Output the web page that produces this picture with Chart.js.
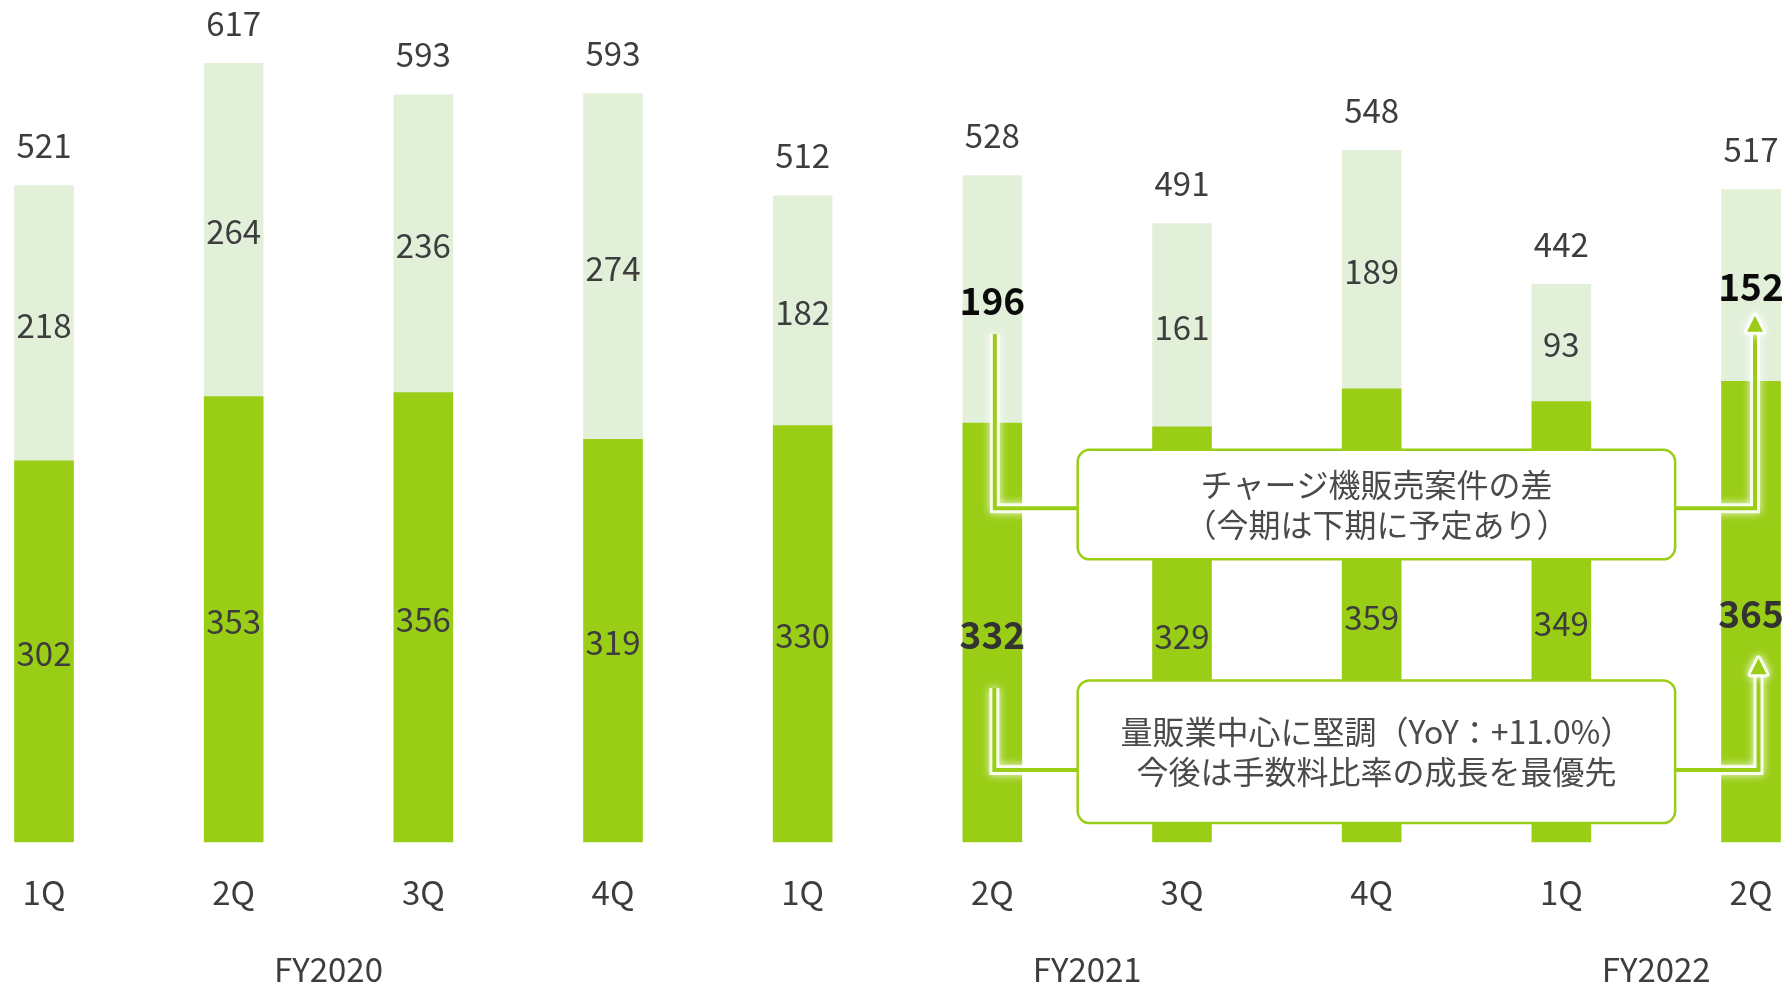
<!DOCTYPE html>
<html>
<head>
<meta charset="utf-8">
<script src="https://cdn.jsdelivr.net/npm/chart.js@4"></script>
<style>
  html, body { margin: 0; padding: 0; background: #ffffff; }
  #wrap { width: 1786px; height: 984px; }
</style>
</head>
<body>
<div id="wrap"><canvas id="chart" width="1786" height="984"></canvas></div>
<script>
// Quarterly breakdown: base business (bottom) and charger sales (top)
const quarters = ['1Q', '2Q', '3Q', '4Q', '1Q', '2Q', '3Q', '4Q', '1Q', '2Q'];
const fiscalYears = ['FY2020', 'FY2021', 'FY2022'];
const fiscalYearFirst = [0, 4, 8];
const fiscalYearLast = [3, 7, 9];
const baseValues = [302, 353, 356, 319, 330, 332, 329, 359, 349, 365];
const chargerValues = [218, 264, 236, 274, 182, 196, 161, 189, 93, 152];
const totals = [521, 617, 593, 593, 512, 528, 491, 548, 442, 517];
const highlighted = [5, 9];

const noteTexts = [
  ['チャージ機販売案件の差', '（今期は下期に予定あり）'],
  ['量販業中心に堅調（YoY：+11.0%）', '今後は手数料比率の成長を最優先']
];

const FONT = "'Noto Sans CJK JP', 'Noto Sans', sans-serif";
const GREEN = '#9ACE16';
const LIGHT = '#E2F0DA';
const TEXT = '#3d3d3d';

// Callout boxes and connectors, placed in data space (y values) and by category index
const callouts = [
  { lines: noteTexts[0], top: 310.7, bottom: 224, linkY: 264.5, startY: 402.5, tipY: 417, from: 5, to: 9, startDx: 2.5, tipDx: 4 },
  { lines: noteTexts[1], top: 128, bottom: 15, linkY: 57, startY: 122, tipY: 145.5, from: 5, to: 9, startDx: 2, tipDx: 7.5 }
];

const valueLabels = {
  id: 'valueLabels',
  afterDatasetsDraw(chart) {
    const ctx = chart.ctx;
    const baseEls = chart.getDatasetMeta(0).data;
    const chargeEls = chart.getDatasetMeta(1).data;
    ctx.save();
    ctx.textAlign = 'center';
    ctx.textBaseline = 'middle';
    baseEls.forEach((el, i) => {
      const hi = highlighted.includes(i);
      ctx.font = hi ? `bold 37px ${FONT}` : `33px ${FONT}`;
      ctx.fillStyle = hi ? '#333333' : TEXT;
      ctx.fillText(String(baseValues[i]), el.x, (el.y + el.base) / 2 + 2);
      const c = chargeEls[i];
      ctx.fillStyle = hi ? '#0a0a0a' : TEXT;
      ctx.fillText(String(chargerValues[i]), c.x, (c.y + c.base) / 2 + 2);
      ctx.font = `33px ${FONT}`;
      ctx.fillStyle = TEXT;
      ctx.fillText(String(totals[i]), c.x, c.y - 40);
    });
    ctx.restore();
  }
};

function glowStroke(ctx, path, width) {
  ctx.save();
  ctx.lineJoin = 'miter';
  ctx.strokeStyle = 'rgba(255,255,255,0.85)';
  ctx.shadowColor = 'rgba(255,255,255,1)';
  ctx.shadowBlur = 9;
  ctx.lineWidth = width + 6;
  path();
  ctx.stroke();
  ctx.restore();
  ctx.save();
  ctx.lineJoin = 'miter';
  ctx.strokeStyle = GREEN;
  ctx.lineWidth = width;
  path();
  ctx.stroke();
  ctx.restore();
}

function glowFill(ctx, path) {
  ctx.save();
  ctx.fillStyle = 'rgba(255,255,255,0.85)';
  ctx.strokeStyle = 'rgba(255,255,255,0.85)';
  ctx.lineWidth = 6;
  ctx.lineJoin = 'round';
  ctx.shadowColor = '#ffffff';
  ctx.shadowBlur = 9;
  path();
  ctx.fill();
  ctx.stroke();
  ctx.restore();
  ctx.save();
  ctx.fillStyle = GREEN;
  path();
  ctx.fill();
  ctx.restore();
}

const calloutPlugin = {
  id: 'callouts',
  afterDraw(chart) {
    const ctx = chart.ctx;
    const xs = chart.scales.x;
    const ys = chart.scales.y;
    const step = xs.getPixelForValue(1) - xs.getPixelForValue(0);
    callouts.forEach(c => {
      const left = xs.getPixelForValue(c.from) + 0.45 * step;
      const right = xs.getPixelForValue(c.to) - 0.40 * step;
      const top = ys.getPixelForValue(c.top);
      const bottom = ys.getPixelForValue(c.bottom);
      const linkY = ys.getPixelForValue(c.linkY);
      const sx = xs.getPixelForValue(c.from) + c.startDx;
      const sy = ys.getPixelForValue(c.startY);
      const tx = xs.getPixelForValue(c.to) + c.tipDx;
      const ty = ys.getPixelForValue(c.tipY);
      const headLen = 16, headHalf = 8;

      // left connector: down from the label, then across into the box
      glowStroke(ctx, () => {
        ctx.beginPath();
        ctx.moveTo(sx, sy);
        ctx.lineTo(sx, linkY);
        ctx.lineTo(left, linkY);
      }, 4);
      // right connector: out of the box, then up to the arrow
      glowStroke(ctx, () => {
        ctx.beginPath();
        ctx.moveTo(right, linkY);
        ctx.lineTo(tx, linkY);
        ctx.lineTo(tx, ty + headLen - 1);
      }, 4);
      glowFill(ctx, () => {
        ctx.beginPath();
        ctx.moveTo(tx, ty);
        ctx.lineTo(tx + headHalf, ty + headLen);
        ctx.lineTo(tx - headHalf, ty + headLen);
        ctx.closePath();
      });

      // box
      ctx.save();
      ctx.beginPath();
      ctx.roundRect(left, top, right - left, bottom - top, 12);
      ctx.fillStyle = '#ffffff';
      ctx.fill();
      ctx.lineWidth = 2.5;
      ctx.strokeStyle = GREEN;
      ctx.stroke();
      ctx.font = `32px ${FONT}`;
      ctx.fillStyle = '#4a4a4a';
      ctx.textAlign = 'center';
      ctx.textBaseline = 'middle';
      const cx = (left + right) / 2;
      const cy = (top + bottom) / 2;
      ctx.fillText(c.lines[0], cx, cy - 20);
      ctx.fillText(c.lines[1], cx, cy + 20);
      ctx.restore();
    });

    // fiscal year group labels under the quarter ticks
    ctx.save();
    ctx.font = `33px ${FONT}`;
    ctx.fillStyle = TEXT;
    ctx.textAlign = 'center';
    ctx.textBaseline = 'middle';
    fiscalYears.forEach((fy, i) => {
      const x = (xs.getPixelForValue(fiscalYearFirst[i]) + xs.getPixelForValue(fiscalYearLast[i])) / 2;
      ctx.fillText(fy, x, 969);
    });
    ctx.restore();
  }
};

new Chart(document.getElementById('chart'), {
  type: 'bar',
  data: {
    labels: quarters,
    datasets: [
      { label: 'base', data: baseValues, backgroundColor: GREEN, borderWidth: 0, barThickness: 59, clip: false },
      { label: 'charger', data: chargerValues, backgroundColor: LIGHT, borderWidth: 0, barThickness: 59, clip: false }
    ]
  },
  options: {
    responsive: false,
    devicePixelRatio: 1,
    animation: false,
    layout: { padding: { left: 44, right: 35, top: 9, bottom: 0 } },
    plugins: { legend: { display: false }, tooltip: { enabled: false } },
    scales: {
      x: {
        stacked: true,
        offset: false,
        grid: { display: false, drawTicks: false },
        border: { display: false },
        ticks: { color: TEXT, font: { family: FONT, size: 33 }, padding: 31, maxRotation: 0, autoSkip: false },
        afterFit(scale) {
          scale.height = 142;
          scale.paddingLeft = 0;
          scale.paddingRight = 0;
        }
      },
      y: {
        stacked: true,
        display: false,
        min: 0,
        max: 660
      }
    }
  },
  plugins: [valueLabels, calloutPlugin]
});
</script>
</body>
</html>
